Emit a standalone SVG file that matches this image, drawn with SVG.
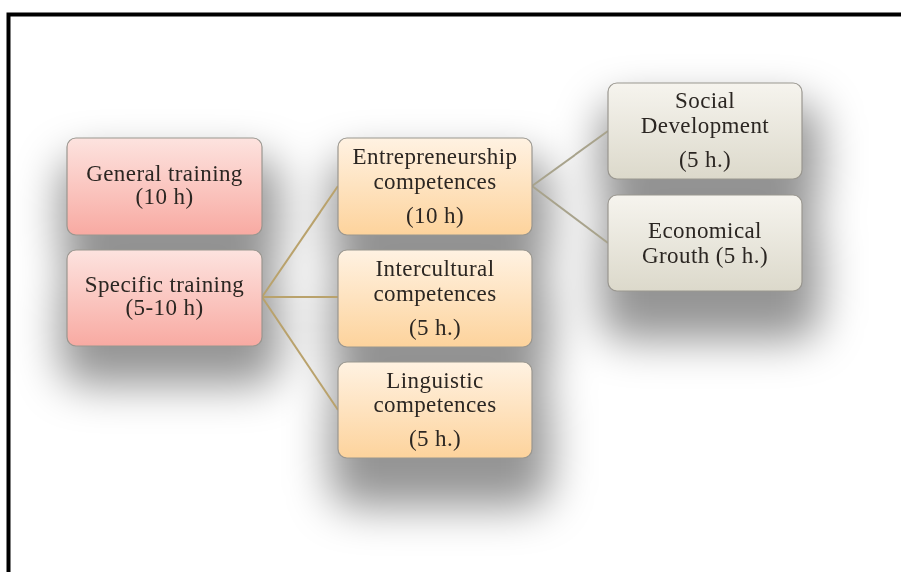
<svg xmlns="http://www.w3.org/2000/svg" width="901" height="572" viewBox="0 0 901 572">
<defs>
<linearGradient id="gPink" x1="0" y1="0" x2="0" y2="1">
<stop offset="0" stop-color="#fde3df"/><stop offset="1" stop-color="#f8aaa2"/>
</linearGradient>
<linearGradient id="gOrange" x1="0" y1="0" x2="0" y2="1">
<stop offset="0" stop-color="#fff2e2"/><stop offset="1" stop-color="#fdd39c"/>
</linearGradient>
<linearGradient id="gGray" x1="0" y1="0" x2="0" y2="1">
<stop offset="0" stop-color="#f6f4ee"/><stop offset="1" stop-color="#dcd9cb"/>
</linearGradient>
<filter id="soft" x="-50%" y="-50%" width="200%" height="200%">
<feGaussianBlur stdDeviation="22"/>
</filter>
</defs>
<style>
.node rect{stroke:#9a9790;stroke-width:1.2}
.pink{fill:url(#gPink)}
.orange{fill:url(#gOrange)}
.gray{fill:url(#gGray)}
text{font-family:"Liberation Serif","DejaVu Serif",serif;font-size:23px;letter-spacing:0.4px;fill:#2b2622;text-anchor:middle}
.c1{stroke:#b9a26c;stroke-width:2;fill:none}
.c2{stroke:#a8a38c;stroke-width:2;fill:none}
.shadow rect{fill:#000;opacity:0.42}
</style>
<rect x="0" y="0" width="901" height="572" fill="#ffffff"/>
<rect x="8.5" y="14.5" width="1000" height="700" fill="none" stroke="#000" stroke-width="4"/>
<g class="shadow" filter="url(#soft)">
<rect x="60" y="158" width="220" height="115" rx="25"/>
<rect x="60" y="270" width="220" height="115" rx="25"/>
<rect x="330" y="158" width="220" height="115" rx="25"/>
<rect x="330" y="270" width="220" height="115" rx="25"/>
<rect x="330" y="382" width="220" height="125" rx="25"/>
<rect x="600" y="103" width="220" height="115" rx="25"/>
<rect x="600" y="215" width="220" height="125" rx="25"/>
</g>
<g id="connectors">
<path class="c1" d="M262 297 L338 186"/>
<path class="c1" d="M262 297 L338 297"/>
<path class="c1" d="M262 297 L338 410"/>
<path class="c2" d="M532 186 L608 131"/>
<path class="c2" d="M532 186 L608 243"/>
</g>
<g id="general" class="node">
<rect class="pink" x="67" y="138" width="195" height="97" rx="9"/>
<text x="164.5" y="181">General training</text>
<text x="164.5" y="204">(10 h)</text>
</g>
<g id="specific" class="node">
<rect class="pink" x="67" y="250" width="195" height="96" rx="9"/>
<text x="164.5" y="292">Specific training</text>
<text x="164.5" y="315">(5-10 h)</text>
</g>
<g id="entrepreneurship" class="node">
<rect class="orange" x="338" y="138" width="194" height="97" rx="9"/>
<text x="435" y="164">Entrepreneurship</text>
<text x="435" y="189">competences</text>
<text x="435" y="223">(10 h)</text>
</g>
<g id="intercultural" class="node">
<rect class="orange" x="338" y="250" width="194" height="97" rx="9"/>
<text x="435" y="276">Intercultural</text>
<text x="435" y="301">competences</text>
<text x="435" y="335">(5 h.)</text>
</g>
<g id="linguistic" class="node">
<rect class="orange" x="338" y="362" width="194" height="96" rx="9"/>
<text x="435" y="388">Linguistic</text>
<text x="435" y="412">competences</text>
<text x="435" y="446">(5 h.)</text>
</g>
<g id="social" class="node">
<rect class="gray" x="608" y="83" width="194" height="96" rx="9"/>
<text x="705" y="108">Social</text>
<text x="705" y="133">Development</text>
<text x="705" y="167">(5 h.)</text>
</g>
<g id="economical" class="node">
<rect class="gray" x="608" y="195" width="194" height="96" rx="9"/>
<text x="705" y="238">Economical</text>
<text x="705" y="263">Grouth (5 h.)</text>
</g>
</svg>
